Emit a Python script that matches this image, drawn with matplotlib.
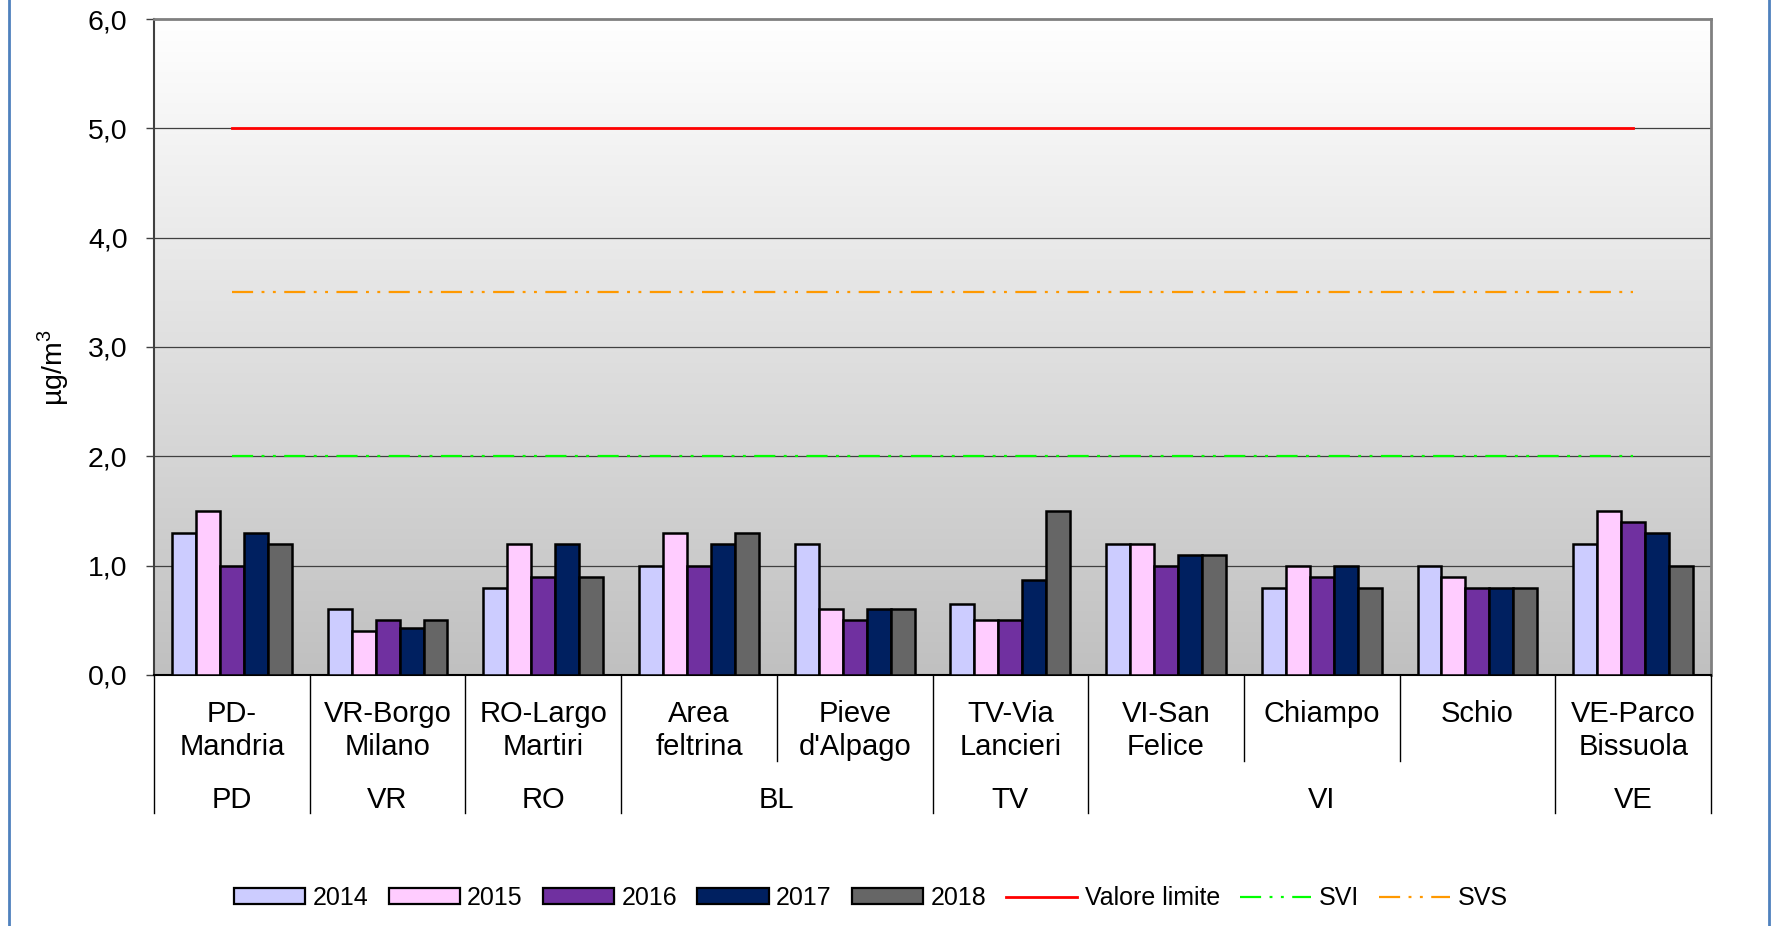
import matplotlib

matplotlib.use("Agg")

import numpy as np
import matplotlib.pyplot as plt
from matplotlib.lines import Line2D
from matplotlib.patches import Patch
from matplotlib.transforms import blended_transform_factory

plt.rcParams["font.family"] = ["Liberation Sans", "DejaVu Sans"]
plt.rcParams["mathtext.fontset"] = "custom"
plt.rcParams["mathtext.rm"] = "Liberation Sans"

# stations and their province
stations = ["PD-\nMandria", "VR-Borgo\nMilano", "RO-Largo\nMartiri", "Area\nfeltrina",
            "Pieve\nd'Alpago", "TV-Via\nLancieri", "VI-San\nFelice", "Chiampo", "Schio",
            "VE-Parco\nBissuola"]
provinces = ["PD", "VR", "RO", "BL", "BL", "TV", "VI", "VI", "VI", "VE"]

years = ["2014", "2015", "2016", "2017", "2018"]
v2014 = [1.3, 0.6, 0.8, 1.0, 1.2, 0.65, 1.2, 0.8, 1.0, 1.2]
v2015 = [1.5, 0.4, 1.2, 1.3, 0.6, 0.5, 1.2, 1.0, 0.9, 1.5]
v2016 = [1.0, 0.5, 0.9, 1.0, 0.5, 0.5, 1.0, 0.9, 0.8, 1.4]
v2017 = [1.3, 0.43, 1.2, 1.2, 0.6, 0.87, 1.1, 1.0, 0.8, 1.3]
v2018 = [1.2, 0.5, 0.9, 1.3, 0.6, 1.5, 1.1, 0.8, 0.8, 1.0]

valore_limite = 5.0
svi = 2.0
svs = 3.5

yticks = [0, 1, 2, 3, 4, 5, 6]
ytick_labels = ["0,0", "1,0", "2,0", "3,0", "4,0", "5,0", "6,0"]

colors = ["#CCCCFF", "#FFCCFF", "#7030A0", "#002060", "#666666"]
dash = (9.5, 3.8, 1.3, 3.8, 1.3, 3.8)

fig = plt.figure(figsize=(17.75, 9.26), dpi=100)
fig.patch.set_facecolor("white")
ax = fig.add_axes([154 / 1775, 1 - 675 / 926, (1711 - 154) / 1775, (675 - 19) / 926])

n = len(stations)
x = np.arange(n)
ax.set_xlim(-0.5, n - 0.5)
ax.set_ylim(0, 6)

# gradient background, white at top to grey at bottom
grad = np.linspace(0.753, 1.0, 256).reshape(-1, 1)
rgb = np.dstack([grad, grad, grad])
ax.imshow(rgb, extent=(-0.5, n - 0.5, 0, 6), origin="lower", aspect="auto", zorder=0)

for yv in yticks[1:-1]:
    ax.axhline(yv, color="#404040", lw=0.9, zorder=1)

width = 0.154
series = [v2014, v2015, v2016, v2017, v2018]
for j, (vals, col) in enumerate(zip(series, colors)):
    ax.bar(x + (j - 2) * width, vals, width=width, color=col, edgecolor="black",
           linewidth=1.8, zorder=3)

ax.plot(x, [valore_limite] * n, color="#FF0000", lw=2.0, zorder=4)
ax.plot(x, [svi] * n, color="#00FF00", lw=1.6, dashes=dash, zorder=4)
ax.plot(x, [svs] * n, color="#FF9900", lw=1.6, dashes=dash, zorder=4)

ax.set_yticks(yticks)
ax.set_yticklabels(ytick_labels, fontsize=20.5)
ax.tick_params(axis="y", direction="out", length=6, width=1, color="#404040", pad=13)
ax.set_xticks([])

for side in ["top", "right"]:
    ax.spines[side].set_color("#808080")
    ax.spines[side].set_linewidth(2.0)
ax.spines["left"].set_color("#404040")
ax.spines["left"].set_linewidth(1.5)
ax.spines["bottom"].set_color("black")
ax.spines["bottom"].set_linewidth(1.5)

# category labels and separators below axis
trans = blended_transform_factory(ax.transData, ax.transAxes)
for i, name in enumerate(stations):
    ax.text(x[i], -0.038, name, transform=trans, ha="center", va="top", fontsize=21,
            linespacing=1.25)

bounds = [0]
for i in range(1, n):
    if provinces[i] != provinces[i - 1]:
        bounds.append(i)
bounds.append(n)
for b in range(n + 1):
    y_end = -0.21 if b in bounds else -0.131
    ax.plot([b - 0.5, b - 0.5], [0, y_end], transform=trans, color="black", lw=1.0,
            clip_on=False, zorder=5)
for a, b in zip(bounds[:-1], bounds[1:]):
    ax.text((a + b - 1) / 2, -0.19, provinces[a], transform=trans, ha="center",
            va="center", fontsize=21)

fig.text(53 / 1775, 1 - 368 / 926, r"µg/m$^3$", rotation=90, ha="center", va="center",
         fontsize=20.5)

handles = [Patch(facecolor=c, edgecolor="black", linewidth=1.6) for c in colors]
handles += [Line2D([], [], color="#FF0000", lw=2.0),
            Line2D([], [], color="#00FF00", lw=1.6, dashes=dash),
            Line2D([], [], color="#FF9900", lw=1.6, dashes=dash)]
labels = years + ["Valore limite", "SVI", "SVS"]
fig.legend(handles, labels, loc="center", bbox_to_anchor=(871 / 1775, 1 - 898 / 926),
           ncol=len(labels), frameon=False, fontsize=18, handlelength=2.85,
           handleheight=0.6, handletextpad=0.3, columnspacing=0.8)

# blue frame of the original figure
for xf in [9 / 1775, 1769 / 1775]:
    fig.add_artist(Line2D([xf, xf], [0, 1], color="#4F81BD", lw=2.0,
                          transform=fig.transFigure))

fig.savefig("out.png", dpi=100, facecolor="white")
